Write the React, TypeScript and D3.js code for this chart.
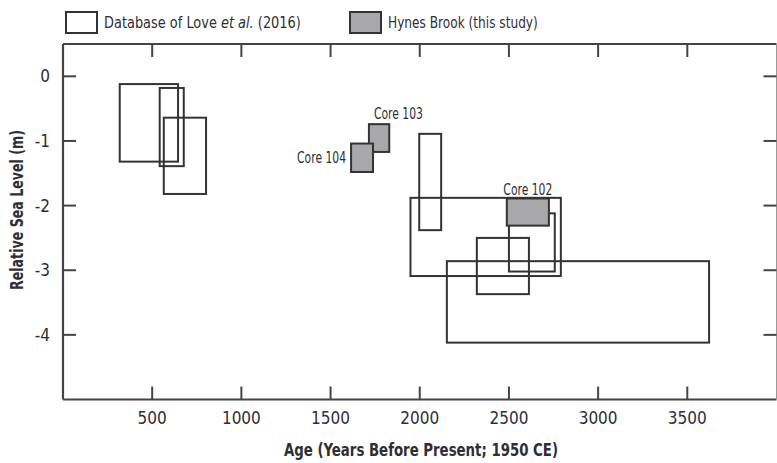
import React, { useLayoutEffect, useRef, useState } from "react";
import * as d3 from "d3";

// Database of Love et al. (2016): age range (yr BP) and relative sea-level range (m)
const loveAgeMin = [318, 542, 565, 1997, 1948, 2500, 2320, 2152];
const loveAgeMax = [645, 677, 802, 2120, 2791, 2757, 2612, 3622];
const loveRslTop = [-0.12, -0.18, -0.64, -0.89, -1.88, -2.12, -2.5, -2.86];
const loveRslBottom = [-1.32, -1.39, -1.82, -2.38, -3.09, -3.02, -3.37, -4.12];

// Hynes Brook cores (this study)
const coreNames = ["Core 103", "Core 104", "Core 102"];
const coreAgeMin = [1715, 1615, 2488];
const coreAgeMax = [1829, 1738, 2724];
const coreRslTop = [-0.74, -1.04, -1.89];
const coreRslBottom = [-1.17, -1.48, -2.31];

const xTicks = [500, 1000, 1500, 2000, 2500, 3000, 3500];
const yTicks = [0, -1, -2, -3, -4];

const W = 777;
const H = 463;
const left = 63;
const right = 776.5;
const top = 44;
const bottom = 399.5;

const FONT = "'Liberation Sans Narrow', 'Arial Narrow', 'DejaVu Sans Condensed', sans-serif";
const INK = "#333";
const TEXT = "#2e2e38";

// Text squeezed horizontally to a given width (keeps mixed styles in one line)
function FitText({ x, y, width, fontSize, children }: any) {
  const ref = useRef<SVGTextElement>(null);
  const [sx, setSx] = useState(1);
  useLayoutEffect(() => {
    if (ref.current) {
      const w = ref.current.getComputedTextLength();
      if (w > 0) setSx(width / w);
    }
  }, [width]);
  return (
    <g transform={`translate(${x},${y}) scale(${sx},1)`}>
      <text ref={ref} x={0} y={0} fontSize={fontSize} fill={TEXT}>
        {children}
      </text>
    </g>
  );
}

export default function App() {
  const x = d3.scaleLinear().domain([0, 4000]).range([left, right]);
  const y = d3.scaleLinear().domain([0.5, -5]).range([top, bottom]);

  const tickLen = 13;

  // labels placed relative to their boxes
  const labelPos = (i: number) => {
    const x0 = x(coreAgeMin[i]);
    const x1 = x(coreAgeMax[i]);
    const y0 = y(coreRslTop[i]);
    const y1 = y(coreRslBottom[i]);
    if (i === 0) return { tx: x0 + 5, ty: y0 - 5, anchor: "start" as const };
    if (i === 1) return { tx: x0 - 5, ty: (y0 + y1) / 2 + 5, anchor: "end" as const };
    return { tx: (x0 + x1) / 2, ty: y0 - 3, anchor: "middle" as const };
  };

  return (
    <svg
      width={W}
      height={H}
      style={{ position: "absolute", left: 0, top: 0, background: "#fff" }}
      fontFamily={FONT}
    >
      {/* legend */}
      <rect x={66} y={12} width={31} height={21} fill="#fff" stroke={INK} strokeWidth={2} />
      <FitText x={104} y={28} width={197} fontSize={16}>
        Database of Love <tspan fontStyle="italic">et al.</tspan> (2016)
      </FitText>
      <rect x={350} y={12} width={31} height={21} fill="#a8a8ab" stroke={INK} strokeWidth={2} />
      <FitText x={388} y={28} width={150} fontSize={16}>
        Hynes Brook (this study)
      </FitText>

      {/* frame */}
      <line x1={left} x2={right} y1={top} y2={top} stroke="#444" strokeWidth={2.2} />
      <line x1={left} x2={right} y1={bottom} y2={bottom} stroke="#444" strokeWidth={2.2} />
      <line x1={left} x2={left} y1={top} y2={bottom} stroke="#444" strokeWidth={2.2} />
      <line x1={right} x2={right} y1={top} y2={bottom} stroke="#999" strokeWidth={1} />

      {/* ticks */}
      {xTicks.map((t) => (
        <g key={"xt" + t}>
          <line x1={x(t)} x2={x(t)} y1={bottom} y2={bottom - tickLen} stroke="#444" strokeWidth={2} />
          <line x1={x(t)} x2={x(t)} y1={top} y2={top + tickLen} stroke="#444" strokeWidth={2} />
          <text x={x(t)} y={424} textAnchor="middle" fontSize={17} fill={TEXT}>
            {t}
          </text>
        </g>
      ))}
      {yTicks.map((t) => (
        <g key={"yt" + t}>
          <line x1={left} x2={left + tickLen} y1={y(t)} y2={y(t)} stroke="#444" strokeWidth={2} />
          <line x1={right - tickLen} x2={right} y1={y(t)} y2={y(t)} stroke="#444" strokeWidth={2} />
          <text x={50} y={y(t)} dy="0.35em" textAnchor="end" fontSize={17} fill={TEXT}>
            {t}
          </text>
        </g>
      ))}

      {/* axis titles */}
      <text
        transform="translate(23,210) rotate(-90)"
        textAnchor="middle"
        fontSize={17}
        fontWeight="bold"
        fill={TEXT}
        textLength={160}
        lengthAdjust="spacingAndGlyphs"
      >
        Relative Sea Level (m)
      </text>
      <text
        x={421}
        y={456}
        textAnchor="middle"
        fontSize={17}
        fontWeight="bold"
        fill={TEXT}
        textLength={274}
        lengthAdjust="spacingAndGlyphs"
      >
        Age (Years Before Present; 1950 CE)
      </text>

      {/* database boxes */}
      {loveAgeMin.map((a, i) => (
        <rect
          key={"love" + i}
          x={x(a)}
          y={y(loveRslTop[i])}
          width={x(loveAgeMax[i]) - x(a)}
          height={y(loveRslBottom[i]) - y(loveRslTop[i])}
          fill="none"
          stroke={INK}
          strokeWidth={2}
        />
      ))}

      {/* Hynes Brook cores */}
      {coreNames.map((name, i) => {
        const p = labelPos(i);
        return (
          <g key={name}>
            <rect
              x={x(coreAgeMin[i])}
              y={y(coreRslTop[i])}
              width={x(coreAgeMax[i]) - x(coreAgeMin[i])}
              height={y(coreRslBottom[i]) - y(coreRslTop[i])}
              fill="#a8a8ab"
              stroke={INK}
              strokeWidth={2}
            />
            <text
              x={p.tx}
              y={p.ty}
              textAnchor={p.anchor}
              fontSize={15}
              fill={TEXT}
              textLength={49}
              lengthAdjust="spacingAndGlyphs"
            >
              {name}
            </text>
          </g>
        );
      })}
    </svg>
  );
}
